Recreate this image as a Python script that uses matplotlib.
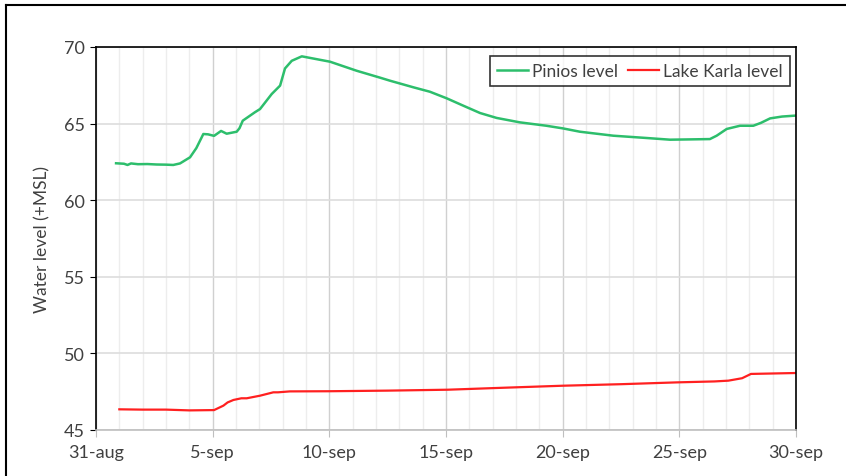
import matplotlib
matplotlib.use("Agg")
import matplotlib.pyplot as plt
from matplotlib.lines import Line2D
from matplotlib.ticker import MultipleLocator

# Data (days since 31-aug)
pinios_days = [0.86, 1.2, 1.35, 1.5, 1.8, 2.2, 2.6, 3.0, 3.31, 3.6, 4.03, 4.3, 4.6, 4.8, 5.06,
               5.36, 5.6, 6.03, 6.15, 6.29, 6.81, 7.03, 7.53, 7.89, 8.1, 8.39, 8.82, 10.03,
               11.17, 12.17, 12.6, 13.6, 14.31, 15.03, 15.74, 16.46, 17.17, 18.17, 19.3,
               20.0, 20.74, 22.17, 23.6, 24.6, 25.5, 26.31, 26.6, 27.03, 27.6, 28.17,
               28.5, 28.89, 29.4, 29.96]
pinios_level = [62.41, 62.38, 62.30, 62.40, 62.35, 62.36, 62.33, 62.32, 62.30, 62.40, 62.80,
                63.40, 64.32, 64.30, 64.20, 64.52, 64.34, 64.47, 64.70, 65.19, 65.74, 65.95,
                66.93, 67.48, 68.60, 69.10, 69.39, 69.04, 68.45, 68.00, 67.80, 67.37, 67.08,
                66.65, 66.17, 65.69, 65.37, 65.08, 64.86, 64.69, 64.47, 64.21, 64.06, 63.95,
                63.97, 63.99, 64.21, 64.65, 64.86, 64.86, 65.05, 65.34, 65.46, 65.52]

karla_days = [1.0, 2.0, 3.0, 4.0, 5.06, 5.46, 5.64, 5.89, 6.23, 6.46, 7.03, 7.6, 7.8,
              8.31, 9.97, 12.5, 15.08, 17.5, 20.0, 22.5, 24.93, 26.5, 27.1, 27.69, 28.07, 30.0]
karla_level = [46.35, 46.33, 46.33, 46.28, 46.30, 46.59, 46.80, 46.96, 47.07, 47.07, 47.24,
               47.46, 47.46, 47.52, 47.53, 47.57, 47.63, 47.76, 47.89, 47.99, 48.11, 48.17,
               48.22, 48.38, 48.66, 48.72]

xtick_pos = [0, 5, 10, 15, 20, 25, 30]
xtick_labels = ["31-aug", "5-sep", "10-sep", "15-sep", "20-sep", "25-sep", "30-sep"]
ytick_pos = [45, 50, 55, 60, 65, 70]

plt.rcParams['font.family'] = ['Lato', 'DejaVu Sans']
text_color = '#404040'

fig = plt.figure(figsize=(8.46, 4.77), dpi=100)
ax = fig.add_axes([96/846, 1-431/477, 700/846, 383/477])

ax.plot(pinios_days, pinios_level, color='#2DBE6C', lw=1.8, label='Pinios level')
ax.plot(karla_days, karla_level, color='#FF2020', lw=1.6, label='Lake Karla level')

ax.set_xlim(0, 30)
ax.set_ylim(45, 70)
ax.set_xticks(xtick_pos)
ax.set_xticklabels(xtick_labels)
ax.set_yticks(ytick_pos)
ax.xaxis.set_minor_locator(MultipleLocator(1))

ax.grid(which='minor', axis='x', color='#EDEDED', lw=1.0)
ax.grid(which='major', axis='x', color='#D0D0D0', lw=1.0)
ax.grid(which='major', axis='y', color='#DDDDDD', lw=1.2)
ax.set_axisbelow(True)

for s in ['left', 'top', 'right']:
    ax.spines[s].set_color('black')
    ax.spines[s].set_linewidth(1.2)
ax.spines['bottom'].set_color('#BFBFBF')
ax.spines['bottom'].set_linewidth(1.2)

ax.tick_params(axis='x', which='major', direction='out', length=5, color='#BFBFBF',
               labelsize=13, labelcolor=text_color, pad=5)
ax.tick_params(axis='x', which='minor', length=0)
ax.tick_params(axis='y', direction='out', length=4, color='black',
               labelsize=13, labelcolor=text_color, pad=4)

ax.set_ylabel('Water level (+MSL)', fontsize=12.5, color=text_color, labelpad=10)

leg = ax.legend(loc='upper right', ncol=2, fontsize=12.5, frameon=True, fancybox=False,
                edgecolor='black', borderpad=0.4, handlelength=1.75, handletextpad=0.25,
                columnspacing=0.6, borderaxespad=0.0, bbox_to_anchor=(0.991, 0.976))
leg.get_frame().set_linewidth(1.2)
for t in leg.get_texts():
    t.set_color(text_color)

# figure border (partially visible)
fig.add_artist(Line2D([6/846, 6/846], [0, 1-6/477], color='black', lw=1.5, transform=fig.transFigure))
fig.add_artist(Line2D([6/846, 1], [1-6/477, 1-6/477], color='black', lw=1.5, transform=fig.transFigure))

fig.savefig('out.png', dpi=100)
